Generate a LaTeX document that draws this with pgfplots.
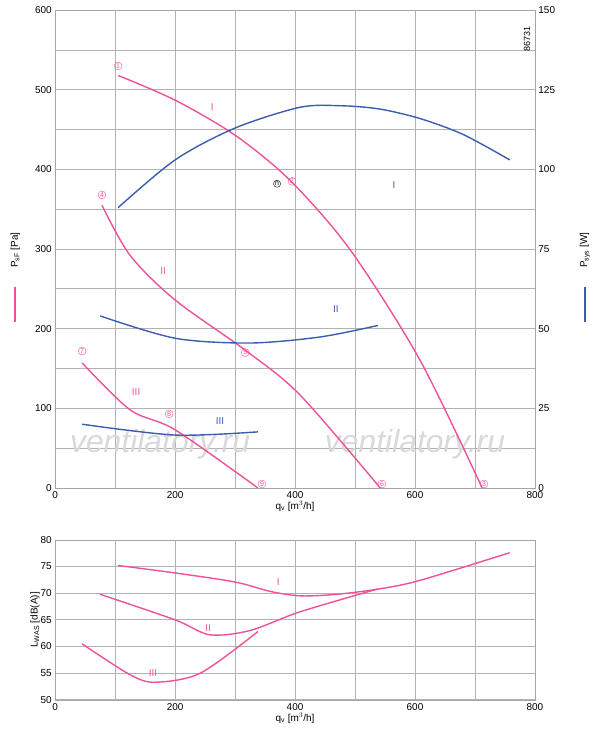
\documentclass[border=0pt]{standalone}
\usepackage{pgfplots}
\pgfplotsset{compat=1.18}
\usepackage{fontspec}
\setmainfont{Liberation Sans}
\definecolor{pk}{HTML}{F0509A}
\definecolor{bl}{HTML}{3A5DAE}
\tikzset{cn/.style={circle,draw=pk,text=pk,inner sep=0.6pt,font=\fontsize{7}{7}\selectfont}}
\begin{document}
\begin{tikzpicture}[x=1bp,y=1bp]
\draw[white] (0,0) rectangle (600,747);
\pgfplotsset{every axis/.append style={scale only axis,width=480bp,
 /pgf/number format/assume math mode=true, tick label style={font=\fontsize{10}{10}\selectfont},
 grid=major, grid style={gray!60, line width=0.8pt}, axis line style={gray!70},
 tick style={draw=none}, xmin=0,xmax=800, xtick={0,200,...,800},
 extra x ticks={100,300,500,700}, extra x tick labels={},
 extra x tick style={grid=major}}}
% top axis
\begin{axis}[at={(55bp,259bp)},anchor=south west,height=478bp,
 ymin=0,ymax=600,ytick={0,100,...,600},
 extra y ticks={50,150,250,350,450,550},extra y tick labels={},
 xlabel={q$_\mathrm{v}$ [m$^3$/h]}, xlabel style={font=\fontsize{10}{10}\selectfont,yshift=4pt}]
\node[gray!30,font=\fontsize{32}{32}\selectfont\itshape] at (axis cs:175,55) {ventilatory.ru};
\node[gray!30,font=\fontsize{32}{32}\selectfont\itshape] at (axis cs:600,55) {ventilatory.ru};
\addplot[pk,line width=1.4pt,smooth] coordinates {(105,518)(200,487)(300,443)(392,386)(492,299)(608,161)(712,0)};
\addplot[pk,line width=1.4pt,smooth] coordinates {(78,355)(125,292)(200,236)(317,173)(408,117)(542,0)};
\addplot[pk,line width=1.4pt,smooth] coordinates {(45,157)(125,98)(200,73)(338,0)};
\node[cn] at (axis cs:105,530) {1};
\node[cn] at (axis cs:395,385) {2};
\node[cn] at (axis cs:715,5) {3};
\node[cn] at (axis cs:78,368) {4};
\node[cn] at (axis cs:317,170) {5};
\node[cn] at (axis cs:545,5) {6};
\node[cn] at (axis cs:45,172) {7};
\node[cn] at (axis cs:190,93) {8};
\node[cn] at (axis cs:345,5) {9};
\node[circle,draw=black,inner sep=0.6pt,font=\fontsize{7}{7}\selectfont] at (axis cs:370,382) {n};
\node[text=pk,font=\fontsize{10}{10}\selectfont] at (axis cs:262,478) {I};
\node[text=pk,font=\fontsize{10}{10}\selectfont] at (axis cs:180,272) {II};
\node[text=pk,font=\fontsize{10}{10}\selectfont] at (axis cs:135,120) {III};
\end{axis}
\begin{axis}[at={(55bp,259bp)},anchor=south west,height=478bp,
 ymin=0,ymax=150,ytick={0,25,...,150},axis y line*=right,axis x line=none,grid=none,extra x ticks={}]
\addplot[bl,line width=1.4pt,smooth] coordinates {(105,88)(200,103)(300,113)(408,119.5)(475,120)(540,119)(608,116)(680,111)(758,103)};
\addplot[bl,line width=1.4pt,smooth] coordinates {(75,54)(200,47)(325,45.5)(442,47.4)(538,51)};
\addplot[bl,line width=1.4pt,smooth] coordinates {(45,20)(200,16.6)(338,17.6)};
\node[text=bl,font=\fontsize{10}{10}\selectfont] at (axis cs:565,95) {I};
\node[text=bl,font=\fontsize{10}{10}\selectfont] at (axis cs:468,56) {II};
\node[text=bl,font=\fontsize{10}{10}\selectfont] at (axis cs:275,21) {III};
\end{axis}
\node[rotate=90,font=\fontsize{9}{9}\selectfont] at (527,708) {86731};
% axis labels
\node[rotate=90,font=\fontsize{10}{10}\selectfont] at (15,497) {P$_{\mathrm{sF}}$ [Pa]};
\draw[pk,line width=1.4pt] (15,460) -- (15,425);
\node[rotate=90,font=\fontsize{10}{10}\selectfont] at (585,497) {P$_{\mathrm{sys}}$ [W]};
\draw[bl,line width=1.4pt] (585,460) -- (585,425);
% bottom axis
\begin{axis}[at={(55bp,47bp)},anchor=south west,height=160bp,
 ymin=50,ymax=80,ytick={50,55,...,80},
 xlabel={q$_\mathrm{v}$ [m$^3$/h]}, xlabel style={font=\fontsize{10}{10}\selectfont,yshift=4pt},
 ylabel={L$_{\mathrm{WAS}}$ [dB(A)]}, ylabel style={font=\fontsize{10}{10}\selectfont,yshift=-6pt}]
\addplot[pk,line width=1.4pt,smooth] coordinates {(105,75.2)(200,73.8)(300,72.1)(360,70.3)(410,69.5)(470,69.8)(540,70.8)(608,72.4)(758,77.6)};
\addplot[pk,line width=1.4pt,smooth] coordinates {(75,69.8)(200,65)(258,62.2)(325,63)(408,66.5)(538,70.8)};
\addplot[pk,line width=1.4pt,smooth] coordinates {(45,60.5)(125,54.7)(167,53.3)(242,55)(338,62.8)};
\node[text=pk,font=\fontsize{10}{10}\selectfont] at (axis cs:372,72) {I};
\node[text=pk,font=\fontsize{10}{10}\selectfont] at (axis cs:255,63.5) {II};
\node[text=pk,font=\fontsize{10}{10}\selectfont] at (axis cs:163,55) {III};
\end{axis}
\end{tikzpicture}
\end{document}
